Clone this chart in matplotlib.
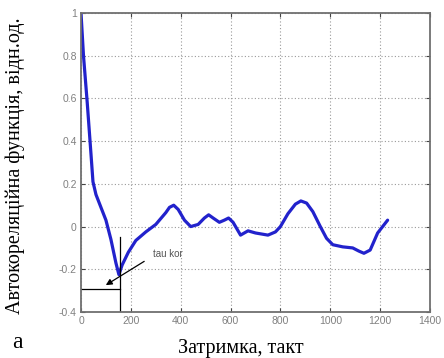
import matplotlib
matplotlib.use("Agg")
import matplotlib.pyplot as plt
import numpy as np

# Data
lag = [0, 10, 25, 40, 48, 60, 80, 100, 120, 140, 152, 165, 190, 220, 260, 300, 340,
       355, 372, 390, 415, 440, 470, 495, 512, 530, 555, 575, 592, 610, 640, 670,
       700, 750, 780, 800, 830, 860, 882, 905, 930, 960, 985, 1010, 1050, 1090,
       1115, 1135, 1160, 1190, 1230]
acf = [1.0, 0.80, 0.58, 0.34, 0.21, 0.15, 0.09, 0.03, -0.06, -0.17, -0.225, -0.18,
       -0.12, -0.065, -0.025, 0.01, 0.065, 0.09, 0.10, 0.08, 0.03, 0.0, 0.01, 0.04,
       0.055, 0.04, 0.02, 0.03, 0.04, 0.02, -0.04, -0.02, -0.03, -0.04, -0.025,
       0.0, 0.06, 0.105, 0.12, 0.11, 0.07, 0.0, -0.055, -0.085, -0.095, -0.10,
       -0.115, -0.125, -0.11, -0.03, 0.03]
x_ticks = [0, 200, 400, 600, 800, 1000, 1200, 1400]
y_ticks = [-0.4, -0.2, 0, 0.2, 0.4, 0.6, 0.8, 1]
y_ticklabels = ["-0.4", "-0.2", "0", "0.2", "0.4", "0.6", "0.8", "1"]
tau_kor = 156
tau_level = -0.29

fig = plt.figure(figsize=(4.44, 3.58), dpi=100)
ax = fig.add_axes([81/444, 1 - 312/358, 349/444, 299/358])

ax.plot(lag, acf, color="#2222cc", lw=2.3, solid_capstyle="round",
        solid_joinstyle="round")

ax.set_xlim(0, 1400)
ax.set_ylim(-0.4, 1)
ax.set_xticks(x_ticks)
ax.set_yticks(y_ticks)
ax.set_yticklabels(y_ticklabels)
ax.grid(True, color="#999999", linestyle=(0, (1, 2)), lw=0.8)
ax.tick_params(direction="in", length=3, top=True, right=True, color="#444444",
               labelsize=7.5, labelcolor="#808080", pad=3)
for lab in ax.get_xticklabels() + ax.get_yticklabels():
    lab.set_family("Liberation Sans")
for s in ax.spines.values():
    s.set_color("#707070")
    s.set_linewidth(1.3)

# annotation
ax.plot([tau_kor, tau_kor], [-0.4, -0.05], color="black", lw=0.9)
ax.plot([0, tau_kor], [tau_level, tau_level], color="black", lw=0.9)
ax.annotate("", xy=(90, -0.281), xytext=(263, -0.156),
            arrowprops=dict(arrowstyle="-|>", color="black", lw=0.9,
                            mutation_scale=9))
ax.text(290, -0.13, "tau kor", fontsize=7, color="#555555",
        family="Liberation Sans", va="center", ha="left")

fig.text(15/444, 1 - 166/358, "Автокореляційна функція, відн.од.", rotation=90,
         family="Liberation Serif", fontsize=14.5, ha="center", va="center")
fig.text(241/444, 1 - 348/358, "Затримка, такт", family="Liberation Serif",
         fontsize=14.5, ha="center", va="center")
fig.text(17/444, 1 - 342/358, "a", family="Liberation Serif", fontsize=17,
         ha="center", va="center")

fig.savefig("out.png", dpi=100)
